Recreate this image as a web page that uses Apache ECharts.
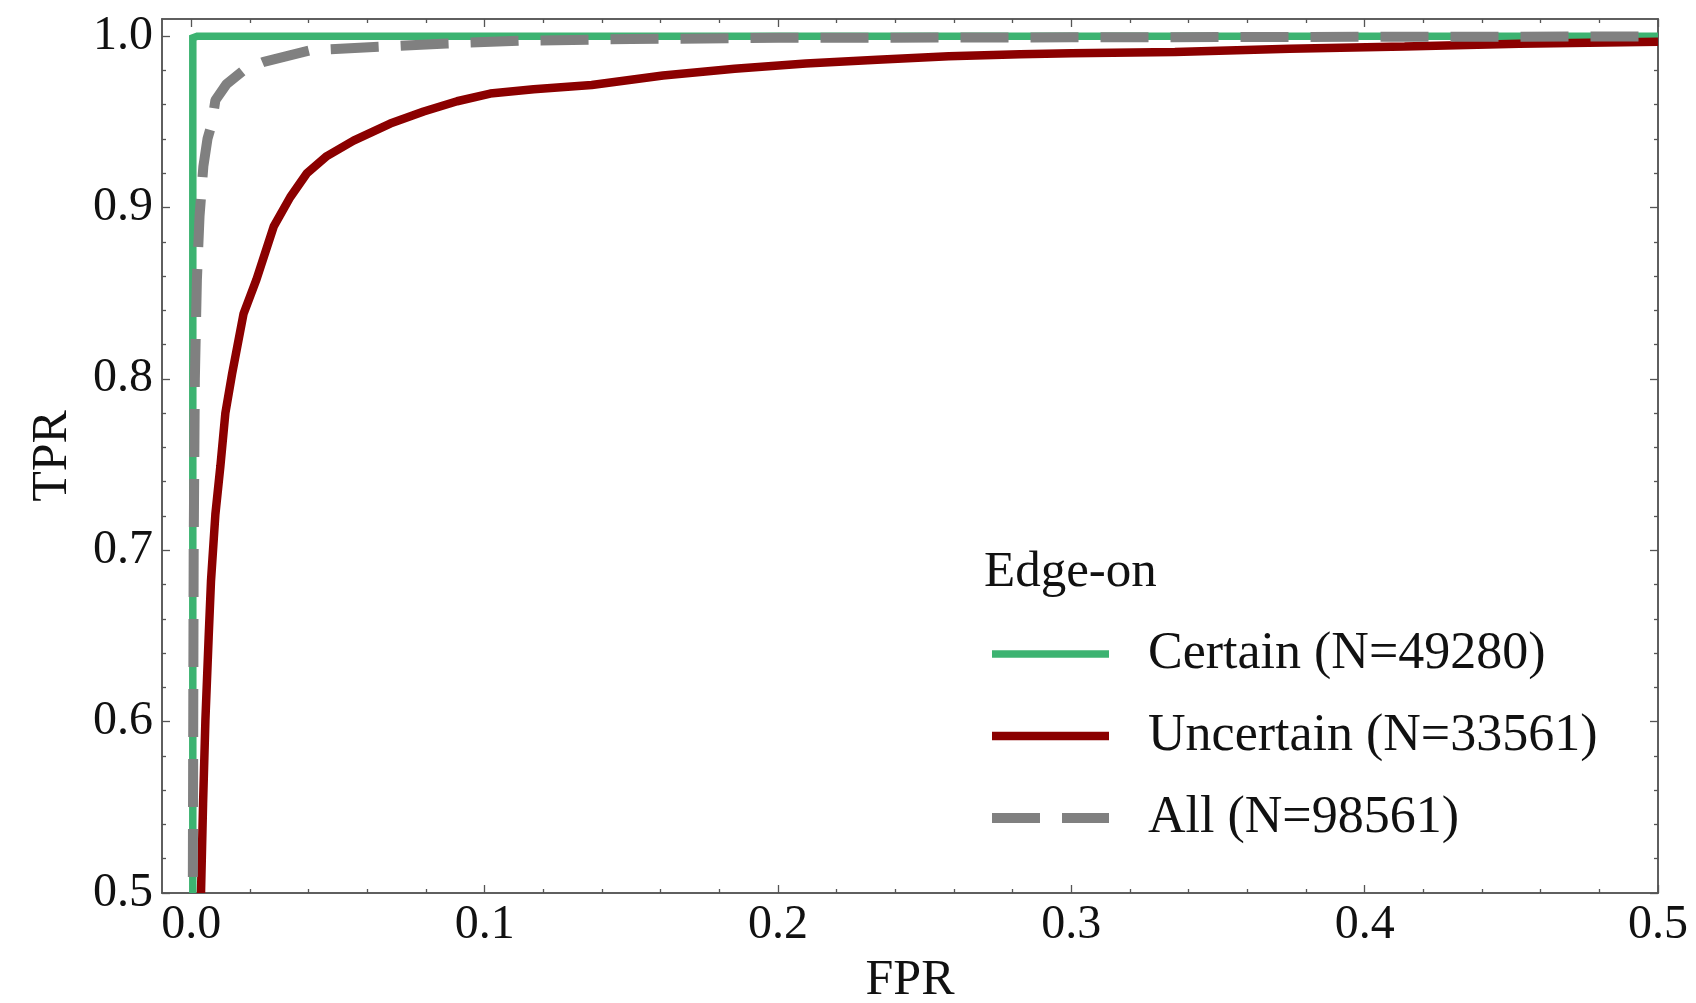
<!DOCTYPE html>
<html>
<head>
<meta charset="utf-8">
<script src="https://cdn.jsdelivr.net/npm/echarts@6/dist/echarts.min.js"></script>
<style>
html,body{margin:0;padding:0;background:#fff;}
#chart{width:1696px;height:1003px;}
</style>
</head>
<body>
<div id="chart"></div>
<script>
// ---- data ----
const seriesNames = ['Certain (N=49280)', 'Uncertain (N=33561)', 'All (N=98561)'];
const certainFPR = [0.0005, 0.0005, 0.002, 0.5];
const certainTPR = [0.5, 0.999, 1.0, 1.0];
const uncertainFPR = [0.0033, 0.0040, 0.0048, 0.0059, 0.0067, 0.0082, 0.0099, 0.0116, 0.0139, 0.0178, 0.0222, 0.0281, 0.0337, 0.0394, 0.0462, 0.0553, 0.0678, 0.0792, 0.0906, 0.1019, 0.1167, 0.1365, 0.1608, 0.1852, 0.2095, 0.2338, 0.2582, 0.2825, 0.30, 0.3353, 0.3744, 0.4136, 0.4527, 0.5];
const uncertainTPR = [0.500, 0.552, 0.601, 0.649, 0.682, 0.721, 0.749, 0.780, 0.803, 0.838, 0.858, 0.889, 0.906, 0.920, 0.930, 0.939, 0.949, 0.956, 0.962, 0.9665, 0.969, 0.9715, 0.977, 0.981, 0.984, 0.9862, 0.9882, 0.9895, 0.990, 0.9907, 0.9926, 0.994, 0.9955, 0.9967];
const allFPR = [0.0005, 0.0008, 0.0012, 0.0019, 0.0028, 0.0041, 0.0055, 0.0070, 0.0082, 0.0120, 0.0178, 0.0247, 0.0406, 0.0644, 0.0871, 0.1120, 0.15, 0.2, 0.3, 0.4, 0.5];
const allTPR = [0.5, 0.7, 0.8, 0.858, 0.895, 0.924, 0.940, 0.949, 0.9626, 0.972, 0.980, 0.985, 0.9918, 0.9938, 0.9957, 0.9973, 0.9983, 0.999, 0.9993, 0.9996, 0.9998];
const xTicks = [0.0, 0.1, 0.2, 0.3, 0.4, 0.5];
const xMinor = [0.02, 0.04, 0.06, 0.08, 0.12, 0.14, 0.16, 0.18, 0.22, 0.24, 0.26, 0.28, 0.32, 0.34, 0.36, 0.38, 0.42, 0.44, 0.46, 0.48];
const yTicks = [0.5, 0.6, 0.7, 0.8, 0.9, 1.0];
const yMinor = [0.52, 0.54, 0.56, 0.58, 0.62, 0.64, 0.66, 0.68, 0.72, 0.74, 0.76, 0.78, 0.82, 0.84, 0.86, 0.88, 0.92, 0.94, 0.96, 0.98];

const zip = (a, b) => a.map((v, i) => [v, b[i]]);
const FONT = '"Liberation Serif", "Times New Roman", serif';
const AX = '#555';

function xAxisDef(position, ticks, len, withLabel) {
  return {
    type: 'value', min: -0.01, max: 0.5, position: position,
    axisLine: { show: true, onZero: false, lineStyle: { color: AX, width: 1.5 } },
    axisTick: { show: true, inside: true, length: len, customValues: ticks, lineStyle: { color: AX, width: 1.3 } },
    axisLabel: withLabel ? { show: true, customValues: ticks, formatter: v => v.toFixed(1), margin: 8, fontSize: 48, fontFamily: FONT, color: '#111' } : { show: false },
    splitLine: { show: false },
    name: withLabel ? 'FPR' : '', nameLocation: 'middle', nameGap: 63,
    nameTextStyle: { fontSize: 50, fontFamily: FONT, color: '#111' }
  };
}
function yAxisDef(position, ticks, len, withLabel) {
  return {
    type: 'value', min: 0.5, max: 1.01, position: position,
    axisLine: { show: true, onZero: false, lineStyle: { color: AX, width: 1.5 } },
    axisTick: { show: true, inside: true, length: len, customValues: ticks, lineStyle: { color: AX, width: 1.3 } },
    axisLabel: withLabel ? { show: true, customValues: ticks, formatter: v => v.toFixed(1), margin: 9, fontSize: 48, fontFamily: FONT, color: '#111' } : { show: false },
    splitLine: { show: false },
    name: withLabel ? 'TPR' : '', nameLocation: 'middle', nameGap: 84, nameRotate: 90,
    nameTextStyle: { fontSize: 50, fontFamily: FONT, color: '#111' }
  };
}

const chart = echarts.init(document.getElementById('chart'), null, { renderer: 'canvas' });
chart.setOption({
  backgroundColor: '#fff',
  animation: false,
  grid: { left: 162, top: 19, right: 38, bottom: 110, containLabel: false, outerBoundsMode: 'none' },
  title: {
    text: 'Edge-on', left: 979, top: 542,
    textStyle: { fontSize: 51, fontWeight: 'normal', fontFamily: FONT, color: '#111' }
  },
  legend: {
    orient: 'vertical', left: 987, top: 628, padding: 0,
    itemWidth: 117, itemHeight: 14, itemGap: 30,
    selectedMode: false,
    data: seriesNames,
    itemStyle: { color: 'rgba(0,0,0,0)', borderWidth: 0, opacity: 0 },
    lineStyle: { width: 'inherit', type: 'inherit', dashOffset: 0 },
    textStyle: { fontSize: 52, fontFamily: FONT, color: '#111', lineHeight: 50, padding: [0, 0, 0, 34] }
  },
  xAxis: [
    xAxisDef('bottom', xTicks, 8, true),
    xAxisDef('bottom', xMinor, 4, false),
    xAxisDef('top', xTicks, 8, false),
    xAxisDef('top', xMinor, 4, false)
  ],
  yAxis: [
    yAxisDef('left', yTicks, 8, true),
    yAxisDef('left', yMinor, 4, false),
    yAxisDef('right', yTicks, 8, false),
    yAxisDef('right', yMinor, 4, false)
  ],
  series: [
    {
      name: seriesNames[0], type: 'line', data: zip(certainFPR, certainTPR),
      symbol: 'none', showSymbol: false, clip: true,
      lineStyle: { color: '#3cb371', width: 7.5, join: 'miter' }, itemStyle: { color: '#3cb371' }
    },
    {
      name: seriesNames[1], type: 'line', data: zip(uncertainFPR, uncertainTPR),
      symbol: 'none', showSymbol: false, clip: true,
      lineStyle: { color: '#8b0000', width: 8.5 }, itemStyle: { color: '#8b0000' }
    },
    {
      name: seriesNames[2], type: 'line', data: zip(allFPR, allTPR),
      symbol: 'none', showSymbol: false, clip: true,
      lineStyle: { color: '#808080', width: 10, type: [48, 22], dashOffset: 54, cap: 'butt' }, itemStyle: { color: '#808080' }
    }
  ]
});
</script>
</body>
</html>
